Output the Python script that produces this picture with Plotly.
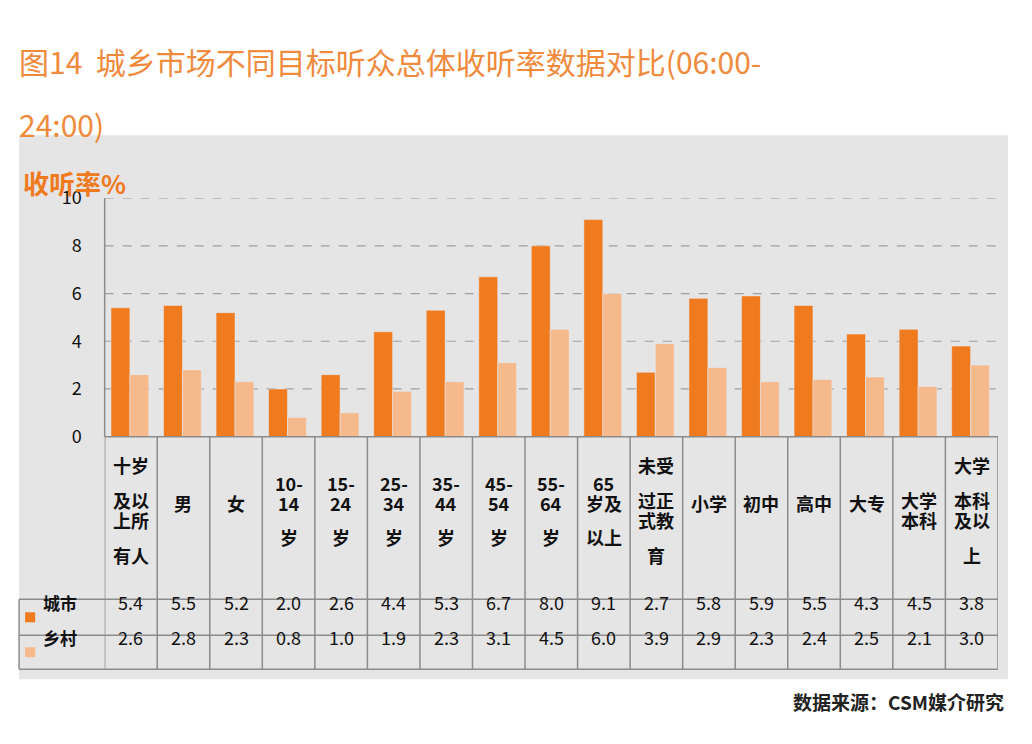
import plotly.graph_objects as go

categories = ["十岁<br>及以<br>上所<br>有人", "男", "女", "10-<br>14<br>岁", "15-<br>24<br>岁", "25-<br>34<br>岁",
              "35-<br>44<br>岁", "45-<br>54<br>岁", "55-<br>64<br>岁", "65<br>岁及<br>以上", "未受<br>过正<br>式教<br>育",
              "小学", "初中", "高中", "大专", "大学<br>本科", "大学<br>本科<br>及以<br>上"]
city = [5.4, 5.5, 5.2, 2.0, 2.6, 4.4, 5.3, 6.7, 8.0, 9.1, 2.7, 5.8, 5.9, 5.5, 4.3, 4.5, 3.8]
rural = [2.6, 2.8, 2.3, 0.8, 1.0, 1.9, 2.3, 3.1, 4.5, 6.0, 3.9, 2.9, 2.3, 2.4, 2.5, 2.1, 3.0]
series_names = ["城市", "乡村"]
yticks = [0, 2, 4, 6, 8, 10]

W, H = 1032, 744
c_city, c_rural = "#F07A1E", "#F6B98C"
font = "Noto Sans CJK SC"
x = list(range(len(categories)))

def px(p):  # pixel x -> paper (compensates page offset)
    return (p - 7) / 0.993 / W

def py(p):  # pixel y -> paper
    return 1 - (p - 22.5) / 0.967 / H

fig = go.Figure()
fig.add_bar(x=x, y=city, name=series_names[0], marker_color=c_city, offset=-0.38, width=0.36)
fig.add_bar(x=x, y=rural, name=series_names[1], marker_color=c_rural, offset=-0.02, width=0.36)

grid = dict(color="#8C8C8C", width=1.5)
shapes = [dict(type="rect", xref="paper", yref="paper", x0=px(18), x1=px(1000), y0=py(680), y1=py(135),
               fillcolor="#E5E5E5", line_width=0, layer="below")]
for t in yticks[1:]:
    shapes.append(dict(type="line", xref="paper", yref="y", x0=px(103), x1=px(990), y0=t, y1=t,
                       line=dict(color="#A0A0A0", width=1.2, dash="dash"), layer="below"))
for r in [437, 600, 636, 670]:
    shapes.append(dict(type="line", xref="paper", yref="paper", x0=px(18 if r != 437 else 103), x1=px(990),
                       y0=py(r), y1=py(r), line=grid))
for i in range(len(categories) + 1):
    shapes.append(dict(type="line", xref="x", yref="paper", x0=i - 0.5, x1=i - 0.5, y0=py(670), y1=py(437),
                       line=grid))
shapes.append(dict(type="line", xref="paper", yref="paper", x0=px(103), x1=px(103), y0=py(437), y1=py(198),
                   line=grid))
shapes.append(dict(type="line", xref="paper", yref="paper", x0=px(18), x1=px(18), y0=py(670), y1=py(600),
                   line=grid))
for c, yy in [(c_city, 618), (c_rural, 653)]:
    shapes.append(dict(type="rect", xref="paper", yref="paper", x0=px(24), x1=px(34), y0=py(yy + 5),
                       y1=py(yy - 5), fillcolor=c, line_width=0))

txt = dict(size=18, color="#111")
ann = []
for i, cat in enumerate(categories):
    lines = cat.split("<br>")
    y0 = 518 - (len(lines) - 1) * 35 / 2
    for k, ln in enumerate(lines):
        ann.append(dict(x=i, y=py(y0 + k * 35), xref="x", yref="paper", text=f"<b>{ln}</b>", showarrow=False,
                        font=txt))
    ann.append(dict(x=i, y=py(618), xref="x", yref="paper", text=f"{city[i]:.1f}", showarrow=False, font=txt))
    ann.append(dict(x=i, y=py(653), xref="x", yref="paper", text=f"{rural[i]:.1f}", showarrow=False, font=txt))
for name, yy in zip(series_names, [618, 653]):
    ann.append(dict(x=px(40), y=py(yy), xref="paper", yref="paper", text=f"<b>{name}</b>", showarrow=False,
                    xanchor="left", font=dict(size=17, color="#111")))
ann.append(dict(x=px(16), y=py(37), xref="paper", yref="paper", xanchor="left", showarrow=False,
                text="图14  城乡市场不同目标听众总体收听率数据对比(06:00-", font=dict(size=30, color="#F08A3C")))
ann.append(dict(x=px(16), y=py(100), xref="paper", yref="paper", xanchor="left", showarrow=False,
                text="24:00)", font=dict(size=30, color="#F08A3C")))
ann.append(dict(x=px(20), y=py(162), xref="paper", yref="paper", xanchor="left", showarrow=False,
                text="<b>收听率%</b>", font=dict(size=26, color="#F07A1E")))
ann.append(dict(x=px(998), y=py(718), xref="paper", yref="paper", xanchor="right", showarrow=False,
                text="<b>数据来源：CSM媒介研究</b>", font=dict(size=19, color="#222")))

fig.update_layout(
    width=W, height=H, margin=dict(l=0, r=0, t=0, b=0), paper_bgcolor="white", plot_bgcolor="rgba(0,0,0,0)",
    font=dict(family=font), showlegend=False, shapes=shapes, annotations=ann,
    xaxis=dict(domain=[px(103), px(990)], range=[-0.5, len(categories) - 0.5], showticklabels=False,
               showgrid=False, zeroline=False),
    yaxis=dict(domain=[py(437), py(198)], range=[0, 10], tickvals=yticks, showgrid=False, zeroline=False,
               tickfont=dict(size=18, color="#111"), ticks="", ticklabelstandoff=22),
)
fig.write_html("out.html")
